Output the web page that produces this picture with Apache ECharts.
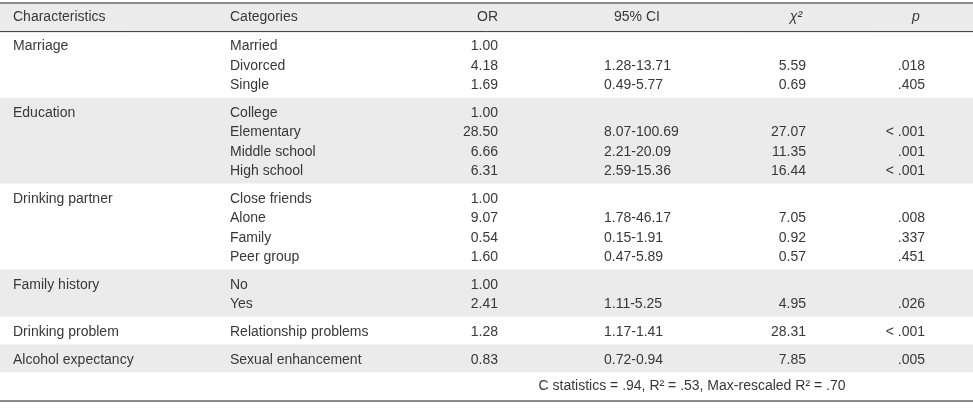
<!DOCTYPE html>
<html>
<head>
<meta charset="utf-8">
<script src="https://cdn.jsdelivr.net/npm/echarts@6/dist/echarts.min.js"></script>
<style>
html,body{margin:0;padding:0;background:#fff;}
#chart{width:973px;height:409px;}
</style>
</head>
<body>
<div id="chart"></div>
<script>
// ---------- DATA ----------
const headers = ['Characteristics', 'Categories', 'OR', '95% CI', 'χ²', 'p'];
const characteristics = ['Marriage', 'Education', 'Drinking partner', 'Family history', 'Drinking problem', 'Alcohol expectancy'];
const groupSizes = [3, 4, 4, 2, 1, 1];
const categories = ['Married', 'Divorced', 'Single', 'College', 'Elementary', 'Middle school', 'High school',
  'Close friends', 'Alone', 'Family', 'Peer group', 'No', 'Yes', 'Relationship problems', 'Sexual enhancement'];
const orValues = [1.00, 4.18, 1.69, 1.00, 28.50, 6.66, 6.31, 1.00, 9.07, 0.54, 1.60, 1.00, 2.41, 1.28, 0.83];
const ciLow = [null, 1.28, 0.49, null, 8.07, 2.21, 2.59, null, 1.78, 0.15, 0.47, null, 1.11, 1.17, 0.72];
const ciHigh = [null, 13.71, 5.77, null, 100.69, 20.09, 15.36, null, 46.17, 1.91, 5.89, null, 5.25, 1.41, 0.94];
const chiValues = [null, 5.59, 0.69, null, 27.07, 11.35, 16.44, null, 7.05, 0.92, 0.57, null, 4.95, 28.31, 7.85];
const pValues = ['', '.018', '.405', '', '< .001', '.001', '< .001', '', '.008', '.337', '.451', '', '.026', '< .001', '.005'];
const footnote = 'C statistics = .94, R² = .53, Max-rescaled R² = .70';

// ---------- LAYOUT (row units) ----------
const HEADER_H = 1.4;
const PAD = 0.435;
const SHIFT = 0.08;
const bands = [];   // {start, end, shaded}
const rowY = [];    // centre of each category row
const groupY = [];  // centre of first row in each group
let y = HEADER_H;
groupSizes.forEach((n, g) => {
  const start = y;
  for (let i = 0; i < n; i++) rowY.push(start + PAD / 2 + SHIFT + i + 0.5);
  groupY.push(start + PAD / 2 + SHIFT + 0.5);
  y = start + n + PAD;
  bands.push({start: start, end: y, shaded: g % 2 === 1});
});
const footStart = y;
const footY = footStart + PAD / 2 + 0.5;
const TOTAL = footStart + 1 + PAD;

// column anchors on x axis (0..973)
const X_MAX = 973;
const colX = {
  char: 13, cat: 230, or: 498, ci: 604, ciHead: 637, chi: 806, chiHead: 796, p: 925, pHead: 916, foot: 692
};

const FONT = '"Liberation Sans", Arial, Helvetica, sans-serif';
const FS = 14;
const COLOR = '#383838';

function txt(api, xv, yv, text, align, extra) {
  const pt = api.coord([xv, yv]);
  return {
    type: 'text',
    style: Object.assign({
      text: text, x: pt[0], y: pt[1], align: align, verticalAlign: 'middle',
      fontSize: FS, fontFamily: FONT, fill: COLOR
    }, extra || {})
  };
}

const chart = echarts.init(document.getElementById('chart'), null, {renderer: 'canvas'});

const option = {
  animation: false,
  backgroundColor: '#fff',
  grid: {left: 0, right: 0, top: 4, bottom: 9, containLabel: false},
  xAxis: {type: 'value', min: 0, max: X_MAX, show: false},
  yAxis: {type: 'value', min: 0, max: TOTAL, inverse: true, show: false},
  series: [
    {
      // background bands
      type: 'custom',
      silent: true,
      clip: false,
      data: [[0, 0]].concat(bands.map((b) => [0, b.start])),
      renderItem: function (params, api) {
        const i = params.dataIndex;
        let s, e, shaded;
        if (i === 0) { s = 0; e = HEADER_H; shaded = true; }
        else { s = bands[i - 1].start; e = bands[i - 1].end; shaded = bands[i - 1].shaded; }
        if (!shaded) return null;
        const p1 = api.coord([0, s]);
        const p2 = api.coord([X_MAX, e]);
        return {type: 'rect', shape: {x: p1[0], y: p1[1], width: p2[0] - p1[0], height: p2[1] - p1[1]},
          style: {fill: '#ebebeb'}};
      }
    },
    {
      // rules
      type: 'custom',
      silent: true,
      clip: false,
      data: [[0, 0], [0, HEADER_H], [0, TOTAL]],
      renderItem: function (params, api) {
        const i = params.dataIndex;
        const yv = api.value(1);
        const p1 = api.coord([0, yv]);
        const p2 = api.coord([X_MAX, yv]);
        const styles = [
          {stroke: '#8a8a8a', lineWidth: 2, off: -1},
          {stroke: '#333', lineWidth: 1, off: 0.5},
          {stroke: '#8a8a8a', lineWidth: 2, off: 1}
        ];
        const st = styles[i];
        return {type: 'line', shape: {x1: p1[0], y1: p1[1] + st.off, x2: p2[0], y2: p2[1] + st.off},
          style: {stroke: st.stroke, lineWidth: st.lineWidth}};
      }
    },
    {
      // header texts
      type: 'custom',
      silent: true,
      clip: false,
      data: [[0, HEADER_H / 2]],
      renderItem: function (params, api) {
        const hy = api.value(1);
        return {type: 'group', children: [
          txt(api, colX.char, hy, headers[0], 'left'),
          txt(api, colX.cat, hy, headers[1], 'left'),
          txt(api, colX.or, hy, headers[2], 'right'),
          txt(api, colX.ciHead, hy, headers[3], 'center'),
          txt(api, colX.chiHead, hy, headers[4], 'center', {fontStyle: 'italic'}),
          txt(api, colX.pHead, hy, headers[5], 'center', {fontStyle: 'italic'})
        ]};
      }
    },
    {
      // group labels
      type: 'custom',
      silent: true,
      clip: false,
      data: characteristics.map((c, g) => [0, groupY[g]]),
      renderItem: function (params, api) {
        return txt(api, colX.char, api.value(1), characteristics[params.dataIndex], 'left');
      }
    },
    {
      // category rows
      type: 'custom',
      silent: true,
      clip: false,
      data: categories.map((c, i) => [0, rowY[i]]),
      renderItem: function (params, api) {
        const i = params.dataIndex;
        const yv = api.value(1);
        const kids = [
          txt(api, colX.cat, yv, categories[i], 'left'),
          txt(api, colX.or, yv, orValues[i].toFixed(2), 'right')
        ];
        if (ciLow[i] != null) kids.push(txt(api, colX.ci, yv, ciLow[i].toFixed(2) + '-' + ciHigh[i].toFixed(2), 'left'));
        if (chiValues[i] != null) kids.push(txt(api, colX.chi, yv, chiValues[i].toFixed(2), 'right'));
        if (pValues[i]) kids.push(txt(api, colX.p, yv, pValues[i], 'right'));
        return {type: 'group', children: kids};
      }
    },
    {
      // footnote
      type: 'custom',
      silent: true,
      clip: false,
      data: [[0, footY]],
      renderItem: function (params, api) {
        return txt(api, colX.foot, api.value(1), footnote, 'center');
      }
    }
  ]
};
chart.setOption(option);
</script>
</body>
</html>
